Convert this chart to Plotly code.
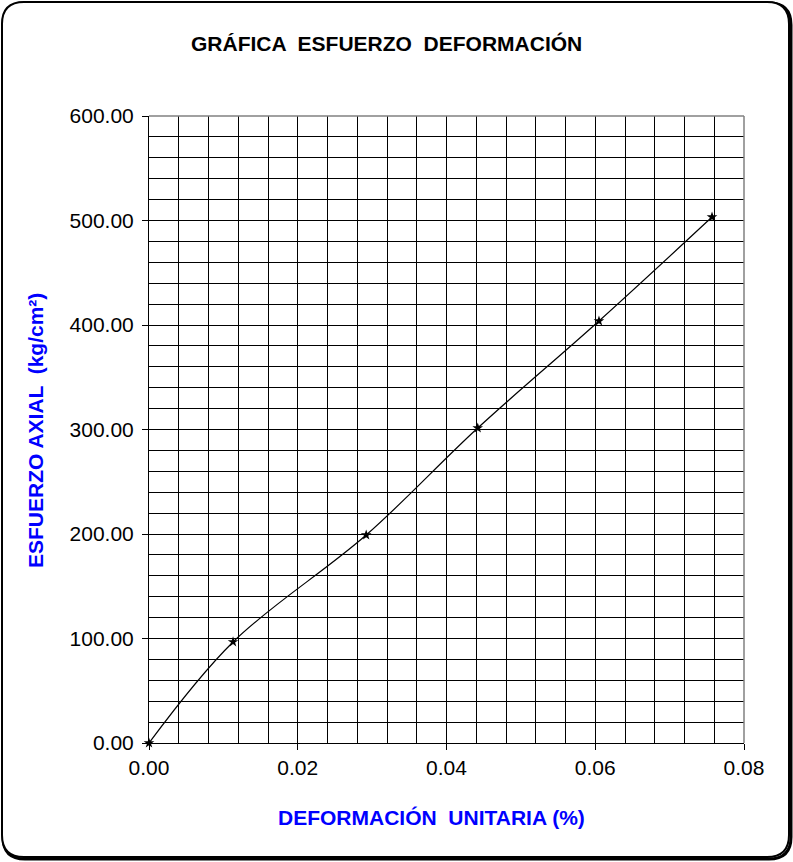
import plotly.graph_objects as go

deformacion = [0.0, 0.0113, 0.0292, 0.0442, 0.0605, 0.0757]
esfuerzo = [0.0, 96.7, 199.0, 301.4, 403.8, 503.3]

x_ticks = [0.00, 0.02, 0.04, 0.06, 0.08]
y_ticks = [0, 100, 200, 300, 400, 500, 600]

W, H = 793, 862
L, R, T, B = 149, 49, 116, 119
pw, ph = W - L - R, H - T - B

def px_x(p):
    return (p - L) / pw

def px_y(p):
    return (H - B - p) / ph

fig = go.Figure()
fig.add_trace(go.Scatter(
    x=deformacion, y=esfuerzo, mode="lines+markers",
    line=dict(color="black", width=1.2, shape="spline", smoothing=1),
    marker=dict(symbol="star", size=8, color="black"),
    showlegend=False, cliponaxis=False,
))

tickfont = dict(family="Liberation Sans, Arial, sans-serif", size=21, color="black")
fig.update_xaxes(
    range=[0, 0.08], tickvals=x_ticks, ticktext=[f"{v:.2f}" for v in x_ticks],
    showgrid=True, gridcolor="black", gridwidth=1,
    minor=dict(dtick=0.004, showgrid=True, gridcolor="black", gridwidth=1, ticks=""),
    showline=True, linecolor="black", linewidth=1,
    ticks="outside", ticklen=6, tickcolor="black", tickwidth=1,
    tickfont=tickfont, zeroline=False, fixedrange=True,
)
fig.update_yaxes(
    range=[0, 600], tickvals=y_ticks, ticktext=[f"{v:.2f}" for v in y_ticks],
    showgrid=True, gridcolor="black", gridwidth=1,
    minor=dict(dtick=20, showgrid=True, gridcolor="black", gridwidth=1, ticks=""),
    showline=True, linecolor="black", linewidth=1,
    ticks="outside", ticklen=6, tickcolor="black", tickwidth=1,
    ticklabelstandoff=4,
    tickfont=tickfont, zeroline=False, fixedrange=True,
)

# outer rounded frame
def rounded(xa, xb, ya, yb, r):
    x0, x1 = px_x(xa), px_x(xb)
    y0, y1 = px_y(yb), px_y(ya)
    rx, ry = r / pw, r / ph
    return (f"M {x0+rx},{y1} L {x1-rx},{y1} Q {x1},{y1} {x1},{y1-ry} "
            f"L {x1},{y0+ry} Q {x1},{y0} {x1-rx},{y0} L {x0+rx},{y0} "
            f"Q {x0},{y0} {x0},{y0+ry} L {x0},{y1-ry} Q {x0},{y1} {x0+rx},{y1} Z")

shapes = [
    dict(type="path", xref="paper", yref="paper", path=rounded(3, 791, 3, 859, 22),
         line=dict(color="black", width=3), layer="below"),
    dict(type="path", xref="paper", yref="paper", path=rounded(2, 789, 2, 857, 22),
         line=dict(color="black", width=2), fillcolor="white", layer="below"),
    dict(type="line", xref="paper", yref="paper", x0=0, x1=1, y0=1, y1=1,
         line=dict(color="#808080", width=1.5), layer="above"),
    dict(type="line", xref="paper", yref="paper", x0=1, x1=1, y0=0, y1=1,
         line=dict(color="#808080", width=1.5), layer="above"),
]

bold = "Liberation Sans, Arial, sans-serif"
annotations = [
    dict(text="<b>GRÁFICA  ESFUERZO  DEFORMACIÓN</b>", xref="paper", yref="paper",
         x=px_x(386), y=px_y(43), showarrow=False, xanchor="center", yanchor="middle",
         font=dict(family=bold, size=21, color="black")),
    dict(text="<b>DEFORMACIÓN  UNITARIA (%)</b>", xref="paper", yref="paper",
         x=px_x(431), y=px_y(817), showarrow=False, xanchor="center", yanchor="middle",
         font=dict(family=bold, size=21, color="#0000FF")),
    dict(text="<b>ESFUERZO AXIAL  (kg/cm²)</b>", xref="paper", yref="paper",
         x=px_x(35), y=px_y(430), showarrow=False, xanchor="center", yanchor="middle",
         textangle=-90, font=dict(family=bold, size=21, color="#0000FF")),
]

fig.update_layout(
    width=W, height=H, margin=dict(l=L, r=R, t=T, b=B, autoexpand=False),
    paper_bgcolor="white", plot_bgcolor="white",
    shapes=shapes, annotations=annotations,
)
fig.write_html("out.html", config={"displayModeBar": False},
               post_script="document.body.style.margin='0';document.body.style.overflow='hidden';")
